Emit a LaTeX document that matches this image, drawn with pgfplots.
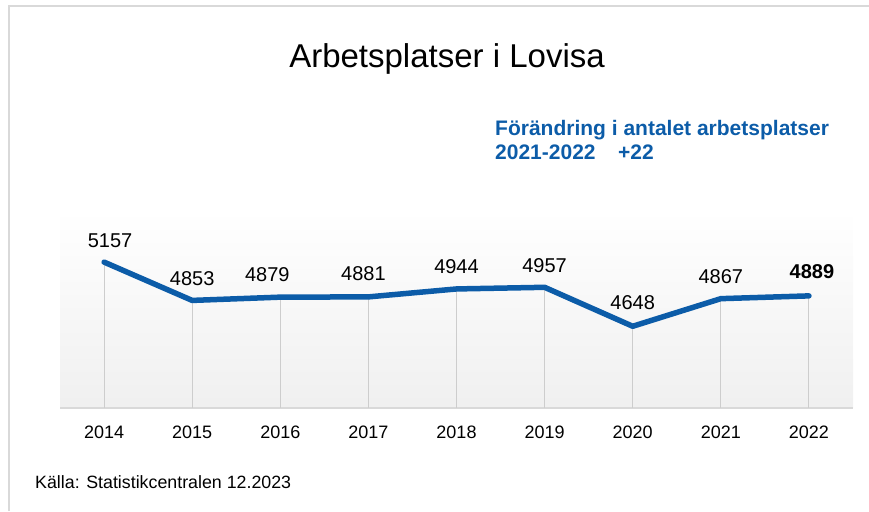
\documentclass[border=0pt]{standalone}
\usepackage{pgfplots}
\pgfplotsset{compat=1.18}
\usepackage{fontspec}
\setmainfont{Liberation Sans}
\definecolor{lineblue}{RGB}{12,92,168}
\definecolor{framegray}{RGB}{217,217,217}
\definecolor{dropgray}{RGB}{205,205,205}
\begin{document}
\begin{tikzpicture}[x=1pt,y=1pt]
\useasboundingbox (0,0) rectangle (869,511);
\draw[framegray, line width=2pt] (9,0) -- (9,505) -- (869,505);
\node[anchor=base, inner sep=0, font=\fontsize{33}{38}\selectfont] at (447,443) {Arbetsplatser i Lovisa};
\node[anchor=base west, inner sep=0, font=\fontsize{21}{24}\selectfont\bfseries, text=lineblue] at (495,375) {Förändring i antalet arbetsplatser};
\node[anchor=base west, inner sep=0, font=\fontsize{21}{24}\selectfont\bfseries, text=lineblue] at (495,351) {2021-2022};
\node[anchor=base west, inner sep=0, font=\fontsize{21}{24}\selectfont\bfseries, text=lineblue] at (618,351) {+22};
\node[anchor=base west, inner sep=0, font=\fontsize{17.8}{20}\selectfont] at (35,23) {Källa: Statistikcentralen 12.2023};
\begin{axis}[
  at={(60pt,103pt)}, anchor=south west,
  width=793pt, height=198pt, scale only axis,
  xmin=-0.5, xmax=8.5, ymin=4000, ymax=5570,
  axis y line=none, axis x line*=bottom,
  x axis line style={framegray, line width=1.2pt, -},
  xtick={0,...,8},
  xticklabels={2014,2015,2016,2017,2018,2019,2020,2021,2022},
  major tick length=0pt,
  xticklabel style={font=\fontsize{18}{20}\selectfont, yshift=-14pt},
  axis background/.style={shade, top color=white, bottom color=black!6},
]
\addplot[ycomb, dropgray, line width=1pt, mark=none] coordinates {
  (0,5157) (1,4853) (2,4879) (3,4881) (4,4944) (5,4957) (6,4648) (7,4867) (8,4889)};
\addplot[lineblue, line width=5.5pt, line join=round, line cap=round, mark=none] coordinates {
  (0,5157) (1,4853) (2,4879) (3,4881) (4,4944) (5,4957) (6,4648) (7,4867) (8,4889)};
\addplot[draw=none, mark=none, nodes near coords, point meta=explicit symbolic,
  every node near coord/.style={anchor=base, inner sep=0, yshift=15pt, font=\fontsize{20}{22}\selectfont, text=black},
  coordinate style/.condition={x==0}{xshift=6pt},
  coordinate style/.condition={x==2}{xshift=-13pt, yshift=1pt},
  coordinate style/.condition={x==3}{xshift=-5pt, yshift=1pt},
  coordinate style/.condition={x==6}{yshift=2pt}]
  table[meta=label] {
x y label
0 5157 5157
1 4853 4853
2 4879 4879
3 4881 4881
4 4944 4944
5 4957 4957
6 4648 4648
7 4867 4867
};
\addplot[draw=none, mark=none, nodes near coords, point meta=explicit symbolic,
  every node near coord/.style={anchor=base, inner sep=0, yshift=17pt, xshift=3pt, font=\fontsize{20}{22}\selectfont\bfseries, text=black}]
  table[meta=label] {
x y label
8 4889 4889
};
\end{axis}
\end{tikzpicture}
\end{document}
